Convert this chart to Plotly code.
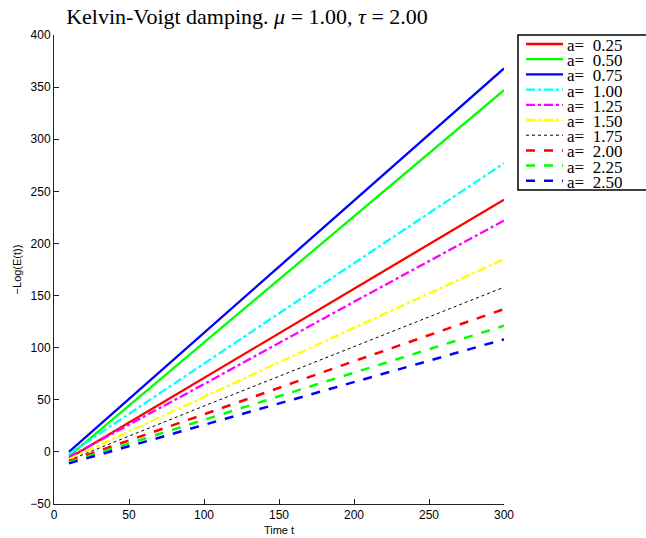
import plotly.graph_objects as go

# ---- data ----
t_vals = [10, 100, 200, 300]
labels = ["a= 0.25", "a= 0.50", "a= 0.75", "a= 1.00", "a= 1.25",
          "a= 1.50", "a= 1.75", "a= 2.00", "a= 2.25", "a= 2.50"]
s_025 = [-6, 71, 157, 242]
s_050 = [-4, 105, 226, 347]
s_075 = [0, 114, 241, 368]
s_100 = [-2, 85, 181, 277]
s_125 = [-5, 65, 144, 222]
s_150 = [-7, 53, 119, 185]
s_175 = [-8, 44, 101, 158]
s_200 = [-9, 36, 87, 137]
s_225 = [-10, 31, 76, 121]
s_250 = [-11, 26, 67, 108]
series = [s_025, s_050, s_075, s_100, s_125, s_150, s_175, s_200, s_225, s_250]
x_ticks = [0, 50, 100, 150, 200, 250, 300]
y_ticks = [-50, 0, 50, 100, 150, 200, 250, 300, 350, 400]

# ---- styles ----
colors = ["#ff0000", "#00ff00", "#0000ff", "#00ffff", "#ff00ff",
          "#ffff00", "#000000", "#ff0000", "#00ff00", "#0000ff"]
dashes = ["solid", "solid", "solid", "dashdot", "dashdot",
          "dashdot", "dot", "dash", "dash", "dash"]
widths = [2.3, 2.3, 2.3, 2.3, 2.3, 2.3, 1.0, 2.5, 2.5, 2.5]

W, H = 646, 538
L, R, T, B = 54, 142, 35, 34

fig = go.Figure()
for lab, ys, c, d, w in zip(labels, series, colors, dashes, widths):
    fig.add_trace(go.Scatter(x=t_vals, y=ys, mode="lines", name=lab,
                             line=dict(color=c, dash=d, width=w),
                             showlegend=False))

# manual legend (paper coordinates computed from pixels)
def px(xp):
    return (xp - L) / (W - L - R)

def py(yp):
    return 1 - (yp - T) / (H - T - B)

shapes = [dict(type="rect", xref="paper", yref="paper",
               x0=px(518), x1=px(660), y0=py(190), y1=py(35),
               line=dict(color="black", width=1.5), fillcolor="white", layer="above")]
annotations = []
for i, (lab, c, d, w) in enumerate(zip(labels, colors, dashes, widths)):
    yy = 44 + i * 15.2
    shapes.append(dict(type="line", xref="paper", yref="paper",
                       x0=px(526), x1=px(563), y0=py(yy), y1=py(yy),
                       line=dict(color=c, dash=d, width=w), layer="above"))
    annotations.append(dict(xref="paper", yref="paper", x=px(566), y=py(yy + 1),
                            text=lab.replace(" ", "&nbsp;&nbsp;"), showarrow=False,
                            xanchor="left", yanchor="middle", height=14, borderpad=0,
                            font=dict(family="Liberation Serif", size=17, color="black")))

fig.update_layout(
    width=W, height=H,
    margin=dict(l=L, r=R, t=T, b=B, autoexpand=False),
    paper_bgcolor="white", plot_bgcolor="white",
    title=dict(text="Kelvin-Voigt damping. <i>μ</i> = 1.00, <i>τ</i> = 2.00",
               x=247 / W, xanchor="center", y=1 - 16 / H, yanchor="middle",
               font=dict(family="Liberation Serif", size=22, color="black")),
    shapes=shapes, annotations=annotations,
    xaxis=dict(range=[0, 300], tickvals=x_ticks, ticks="inside", ticklen=5,
               showgrid=False, zeroline=False, showline=True, linecolor="#222222",
               linewidth=1, tickcolor="#222222",
               tickfont=dict(family="Liberation Sans", size=12, color="black"),
               title=dict(text="Time t", standoff=4,
                          font=dict(family="Liberation Sans", size=11, color="black"))),
    yaxis=dict(range=[-50, 400], tickvals=y_ticks, ticks="inside", ticklen=5,
               showgrid=False, zeroline=False, showline=True, linecolor="#222222",
               linewidth=1, tickcolor="#222222",
               tickfont=dict(family="Liberation Sans", size=12, color="black"),
               title=dict(text="−Log(E(t))", standoff=6,
                          font=dict(family="Liberation Sans", size=11, color="black"))),
)
fig.write_html("out.html")
